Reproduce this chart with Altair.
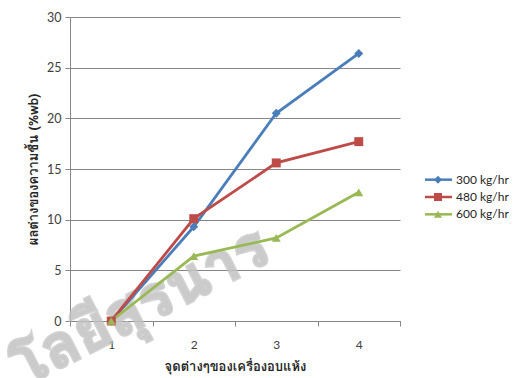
import altair as alt
import pandas as pd

# Measurement points along the dryer and moisture difference per feed rate
points = [1, 2, 3, 4]
series = ["300 kg/hr", "480 kg/hr", "600 kg/hr"]
moist_300 = [0.0, 9.3, 20.5, 26.4]
moist_480 = [0.0, 10.1, 15.6, 17.7]
moist_600 = [0.0, 6.4, 8.2, 12.7]
colors = ["#4a7ebb", "#be4b48", "#98b954"]
shapes = ["diamond", "square", "triangle-up"]

rows = []
for name, vals in zip(series, [moist_300, moist_480, moist_600]):
    for p, v in zip(points, vals):
        rows.append({"point": p, "series": name, "value": v})
df = pd.DataFrame(rows)
legend_df = pd.DataFrame({"series": series})
watermark_df = pd.DataFrame({"t": ["โลยีสุรนาร"]})

FONT = "Lato"
THAI = "Loma, Garuda, Norasi, Noto Sans Thai, Tahoma, sans-serif"

color_scale = alt.Scale(domain=series, range=colors)
shape_scale = alt.Scale(domain=series, range=shapes)

x_enc = alt.X(
    "point:O",
    bandPosition=0.5,
    scale=alt.Scale(type="band", paddingInner=0, paddingOuter=0),
    axis=alt.Axis(
        title="จุดต่างๆของเครื่องอบแห้ง",
        titleFont=THAI, titleFontSize=13, titleFontWeight="bold",
        titleColor="#262626", titlePadding=10,
        labelAngle=0, labelFont=FONT, labelFontSize=12, labelColor="#404040",
        labelPadding=13, tickBand="extent", tickSize=5, tickColor="#868686",
        domainColor="#868686", grid=False,
    ),
)
y_enc = alt.Y(
    "value:Q",
    scale=alt.Scale(domain=[0, 30], nice=False),
    axis=alt.Axis(
        title="ผลต่างของความชื้น (%wb)",
        titleFont=THAI, titleFontSize=13, titleFontWeight="bold",
        titleColor="#262626", titlePadding=6,
        values=[0, 5, 10, 15, 20, 25, 30],
        labelFont=FONT, labelFontSize=12.5, labelColor="#404040", labelPadding=4,
        tickSize=5, tickColor="#868686", domainColor="#868686",
        gridColor="#868686", gridWidth=1,
    ),
)

base = alt.Chart(df)

# Faint grey lettering behind the plot
watermark = alt.Chart(watermark_df).mark_text(
    font=THAI, fontSize=60, fontWeight="bold", color="#c2c2c2", opacity=0.85,
    stroke="#c2c2c2", strokeWidth=3, strokeOpacity=0.85,
    angle=333, align="left", baseline="alphabetic",
).encode(x=alt.value(-46), y=alt.value(370), text="t:N")

lines = base.mark_line(strokeWidth=2.8).encode(
    x=x_enc, y=y_enc,
    color=alt.Color("series:N", scale=color_scale, legend=None),
    detail="series:N",
)
markers = base.mark_point(filled=True, opacity=1, size=80).encode(
    x=x_enc, y=y_enc,
    color=alt.Color("series:N", scale=color_scale, legend=None),
    shape=alt.Shape("series:N", scale=shape_scale, legend=None),
)

# Legend: rows placed by a point scale on the series names
leg_y = alt.Y("series:N", scale=alt.Scale(domain=series, range=[154, 206]), axis=None)
leg_base = alt.Chart(legend_df)
leg_line = leg_base.mark_rule(strokeWidth=2.5).encode(
    x=alt.value(355), x2=alt.value(382), y=leg_y,
    color=alt.Color("series:N", scale=color_scale, legend=None),
)
leg_mark = leg_base.mark_point(filled=True, opacity=1, size=65).encode(
    x=alt.value(368), y=leg_y,
    color=alt.Color("series:N", scale=color_scale, legend=None),
    shape=alt.Shape("series:N", scale=shape_scale, legend=None),
)
leg_text = leg_base.mark_text(
    align="left", baseline="middle", font=FONT, fontSize=12, color="#262626"
).encode(x=alt.value(386), y=leg_y, text="series:N")

legend = alt.layer(leg_line, leg_mark, leg_text)
plot = alt.layer(watermark, lines, markers)

chart = alt.layer(plot, legend).resolve_scale(y="independent").properties(
    width=330,
    height=304,
    autosize=alt.AutoSizeParams(type="none"),
    padding={"left": 70, "top": 17, "right": 122, "bottom": 57},
    background="white",
).configure_view(stroke=None)

chart.save("out.html", embed_options={"renderer": "svg", "actions": False})
